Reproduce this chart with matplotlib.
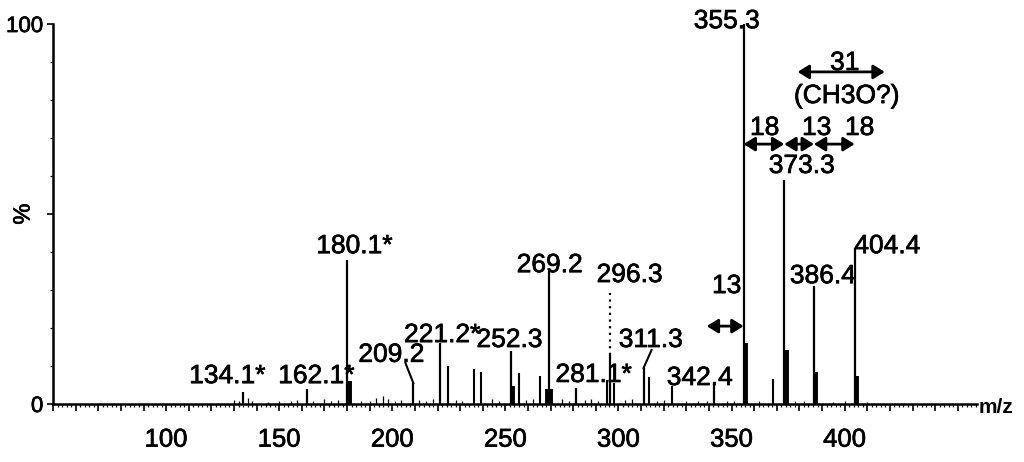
import matplotlib
matplotlib.use("Agg")
import matplotlib.pyplot as plt
import matplotlib.patheffects as pe
from matplotlib.ticker import FixedLocator, MultipleLocator, FuncFormatter

plt.rcParams["font.family"] = ["Liberation Sans", "DejaVu Sans"]

# labelled peaks (m/z, relative abundance %)
main_mz = [134.1, 162.1, 180.1, 209.2, 221.2, 252.3, 269.2, 281.1, 296.3,
           311.3, 342.4, 355.3, 373.3, 386.4, 404.4]
main_int = [3.2, 4.0, 38.0, 5.5, 16.0, 14.0, 35.0, 4.2, 12.9,
            9.5, 5.3, 100.0, 59.0, 31.0, 41.0]

# unlabelled peaks
other_mz = [224.8, 235.9, 239.0, 256.2, 265.1, 294.7, 298.2, 313.3, 323.5, 368.2]
other_int = [10.0, 9.2, 8.4, 8.2, 7.4, 6.3, 5.5, 7.1, 4.7, 6.6]

# isotope / shoulder peaks next to the main ones
iso_mz = [181.1, 253.3, 268.3, 270.2, 356.3, 374.3, 387.4, 405.4]
iso_int = [6.0, 4.7, 4.0, 4.0, 16.0, 14.2, 8.4, 7.4]

# baseline noise
noise_mz = [130, 132, 136, 138, 145, 150, 155, 158, 165, 170, 173, 176, 186,
            190, 193, 196, 198, 201, 204, 212, 215, 218, 228, 231, 244, 247,
            259, 262, 275, 278, 285, 288, 291, 303, 306, 317, 320, 330, 335,
            339, 348, 351, 362, 378, 382, 395, 400, 410]
noise_int = [1.0, 0.8, 1.5, 0.9, 0.6, 0.7, 0.8, 1.0, 0.9, 1.2, 0.8, 1.0, 0.8,
             0.9, 1.5, 2.0, 1.2, 0.8, 1.0, 1.0, 0.8, 1.2, 1.0, 0.9, 1.2, 0.9,
             1.0, 1.4, 1.2, 0.9, 1.0, 1.2, 0.8, 1.0, 1.2, 0.9, 1.0, 0.8, 0.9,
             0.7, 0.8, 0.8, 0.8, 0.7, 0.8, 0.6, 0.7, 0.5]

# peak label text and where it sits (m/z, baseline %)
labels = ["134.1*", "162.1*", "180.1*", "209.2", "221.2*", "252.3", "269.2",
          "281.1*", "296.3", "311.3", "342.4", "355.3", "373.3", "386.4", "404.4"]
label_x = [127.0, 166.4, 183.2, 199.6, 222.1, 251.8, 269.6,
           289.0, 304.9, 314.2, 335.9, 347.8, 381.0, 390.3, 418.8]
label_y = [5.5, 5.5, 39.7, 11.1, 16.3, 15.0, 34.7,
           5.8, 32.1, 15.0, 5.0, 98.9, 60.8, 31.8, 39.7]

heavy = [pe.withStroke(linewidth=0.5, foreground="black")]

fig = plt.figure(figsize=(10.24, 4.62), dpi=100)
ax = fig.add_axes([0.0518, 0.1255, 0.9023, 0.8225])

ax.vlines(noise_mz, 0, noise_int, colors="black", lw=0.9)
ax.vlines(iso_mz, 0, iso_int, colors="black", lw=2.8)
ax.vlines(other_mz, 0, other_int, colors="black", lw=1.5)
ax.vlines(main_mz, 0, main_int, colors="black", lw=1.6)

for txt, x, y in zip(labels, label_x, label_y):
    ax.text(x, y, txt, fontsize=19, ha="center", va="baseline", clip_on=False,
            path_effects=heavy)

# leader lines and the dotted marker for 296.3
ax.plot([205.8, 209.3], [10.8, 5.5], color="black", lw=1.5)
ax.plot([314.6, 311.1], [14.2, 9.5], color="black", lw=1.5)
ax.plot([296.3, 296.3], [12.9, 29.2], color="black", lw=1.6, ls=(0, (1, 2)))

# mass-difference arrows
arrow = dict(arrowstyle="<|-|>,head_length=0.45,head_width=0.28",
             color="black", lw=2, shrinkA=0, shrinkB=0, mutation_scale=15)
ax.annotate("", xy=(339.0, 20.5), xytext=(355.3, 20.5), arrowprops=arrow)
ax.text(347.8, 29.2, "13", fontsize=19, ha="center", va="baseline", path_effects=heavy)
ax.annotate("", xy=(355.3, 68.4), xytext=(373.3, 68.4), arrowprops=arrow)
ax.annotate("", xy=(373.3, 68.4), xytext=(386.4, 68.4), arrowprops=arrow)
ax.annotate("", xy=(386.4, 68.4), xytext=(404.4, 68.4), arrowprops=arrow)
ax.text(364.6, 70.8, "18", fontsize=19, ha="center", va="baseline", path_effects=heavy)
ax.text(387.6, 70.8, "13", fontsize=19, ha="center", va="baseline", path_effects=heavy)
ax.text(406.6, 70.8, "18", fontsize=19, ha="center", va="baseline", path_effects=heavy)
ax.annotate("", xy=(379.2, 87.4), xytext=(417.7, 87.4), arrowprops=arrow)
ax.text(400.0, 87.9, "31", fontsize=19, ha="center", va="baseline", path_effects=heavy)
ax.text(400.9, 79.2, "(CH3O?)", fontsize=19, ha="center", va="baseline", path_effects=heavy)

ax.set_xlim(50, 458.5)
ax.set_ylim(0, 100)
for s in ["top", "right"]:
    ax.spines[s].set_visible(False)
ax.spines["left"].set_linewidth(1.8)
ax.spines["bottom"].set_linewidth(1.8)

ax.xaxis.set_major_locator(MultipleLocator(10))
ax.xaxis.set_minor_locator(MultipleLocator(2))
ax.xaxis.set_major_formatter(FuncFormatter(
    lambda v, p: f"{v:.0f}" if (round(v) % 50 == 0 and 100 <= v <= 400) else ""))
ax.tick_params(axis="x", which="major", length=5, width=1.2, labelsize=18.5, pad=12)
ax.tick_params(axis="x", which="minor", length=2.5, width=0.9)
for lab in ax.get_xticklabels():
    lab.set_path_effects(heavy)

ax.yaxis.set_major_locator(FixedLocator([0, 50, 100]))
ax.yaxis.set_minor_locator(MultipleLocator(10))
ax.yaxis.set_major_formatter(FuncFormatter(lambda v, p: "" if v == 50 else f"{v:.0f}"))
ax.tick_params(axis="y", which="major", length=4, width=1.2, labelsize=16, pad=3)
ax.tick_params(axis="y", which="minor", length=2, width=0.9)
for lab in ax.get_yticklabels():
    lab.set_path_effects(heavy)

ax.set_ylabel("%", fontsize=17, labelpad=6, path_effects=heavy)
ax.yaxis.set_label_coords(-0.02, 0.5)
ax.text(466.8, -1.0, "m/z", fontsize=15, fontweight="bold", ha="center",
        va="center", clip_on=False)

fig.savefig("out.png", dpi=100)
